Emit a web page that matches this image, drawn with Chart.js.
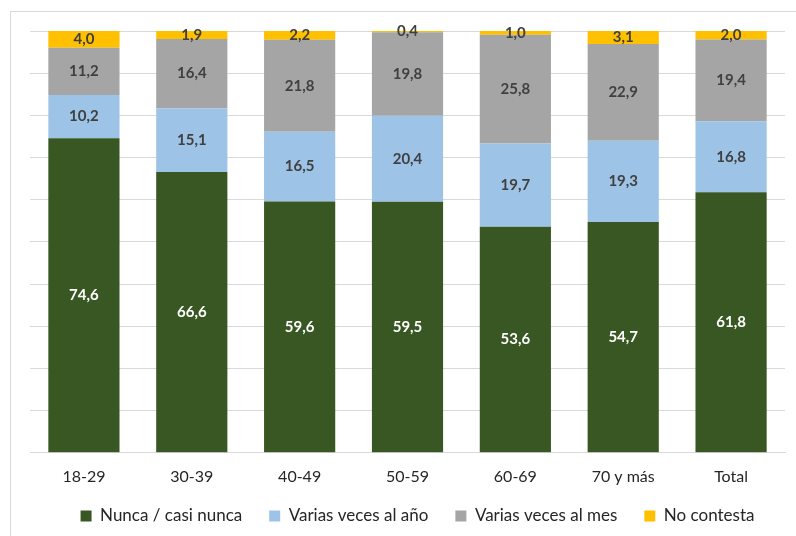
<!DOCTYPE html>
<html>
<head>
<meta charset="utf-8">
<script src="https://cdn.jsdelivr.net/npm/chart.js@4"></script>
<style>
  html, body { margin: 0; padding: 0; background: #fff; }
  #wrap { position: relative; width: 796px; height: 536px; }
  #frame { position: absolute; left: 10px; top: 11px; width: 800px; height: 540px;
           border-left: 1px solid #d9d9d9; border-top: 1px solid #d9d9d9; }
  canvas { position: absolute; left: 0; top: 0; }
</style>
</head>
<body>
<div id="wrap">
  <div id="frame"></div>
  <canvas id="chart" width="796" height="536"></canvas>
</div>
<script>
// categories
let categories = ['18-29', '30-39', '40-49', '50-59', '60-69', '70 y más', 'Total'];
// series values (%)
let nunca = [74.6, 66.6, 59.6, 59.5, 53.6, 54.7, 61.8];
let variasAnio = [10.2, 15.1, 16.5, 20.4, 19.7, 19.3, 16.8];
let variasMes = [11.2, 16.4, 21.8, 19.8, 25.8, 22.9, 19.4];
let noContesta = [4.0, 1.9, 2.2, 0.4, 1.0, 3.1, 2.0];
let seriesNames = ['Nunca / casi nunca', 'Varias veces al año', 'Varias veces al mes', 'No contesta'];

const FONT = 'Lato, "Open Sans", sans-serif';
const LEGEND_PAD = 27;
const LEGEND_FONT = 17;

// labels in the middle of each segment
const segLabels = {
    id: 'segLabels',
    afterDatasetsDraw(chart) {
        let ctx = chart.ctx;
        ctx.save();
        ctx.font = 'bold 15px ' + FONT;
        ctx.textAlign = 'center';
        ctx.textBaseline = 'middle';
        chart.data.datasets.forEach((ds, i) => {
            let meta = chart.getDatasetMeta(i);
            meta.data.forEach((bar, j) => {
                let v = ds.data[j];
                let y = (bar.y + bar.base) / 2;
                ctx.fillStyle = i == 0 ? '#ffffff' : '#404040';
                ctx.fillText(v.toFixed(1).replace('.', ','), bar.x, y);
            });
        });
        ctx.restore();
    }
};

// put the legend row where the original has it
const legendFix = {
    id: 'legendFix',
    afterLayout(chart) {
        let lg = chart.legend;
        lg.top = 516 - LEGEND_PAD - LEGEND_FONT / 2;
        lg.bottom = lg.top + lg.height;
        lg.left += 10;
        lg.right += 10;
    }
};

let ctx = document.getElementById('chart');
var chart = new Chart(ctx, {
    type: 'bar',
    data: {
        labels: categories,
        datasets: [
            { label: seriesNames[0], data: nunca, backgroundColor: '#385723' },
            { label: seriesNames[1], data: variasAnio, backgroundColor: '#9dc3e6' },
            { label: seriesNames[2], data: variasMes, backgroundColor: '#a5a5a5' },
            { label: seriesNames[3], data: noContesta, backgroundColor: '#ffc000' }
        ]
    },
    options: {
        responsive: false,
        animation: false,
        layout: { padding: { left: 30, right: 11, top: 31, bottom: -10 } },
        datasets: { bar: { categoryPercentage: 1, barPercentage: 0.66 } },
        scales: {
            x: {
                stacked: true,
                grid: { display: false },
                border: { display: true, color: '#d9d9d9' },
                ticks: { color: '#262626', font: { family: FONT, size: 16 }, padding: 6 }
            },
            y: {
                stacked: true,
                min: 0,
                max: 100,
                ticks: { display: false, stepSize: 10 },
                border: { display: false },
                grid: { color: '#d9d9d9', drawTicks: false }
            }
        },
        plugins: {
            legend: {
                position: 'bottom',
                labels: {
                    boxWidth: 11,
                    boxHeight: 11,
                    padding: LEGEND_PAD,
                    color: '#262626',
                    font: { family: FONT, size: LEGEND_FONT }
                }
            },
            tooltip: { enabled: false }
        }
    },
    plugins: [segLabels, legendFix]
});
</script>
</body>
</html>
